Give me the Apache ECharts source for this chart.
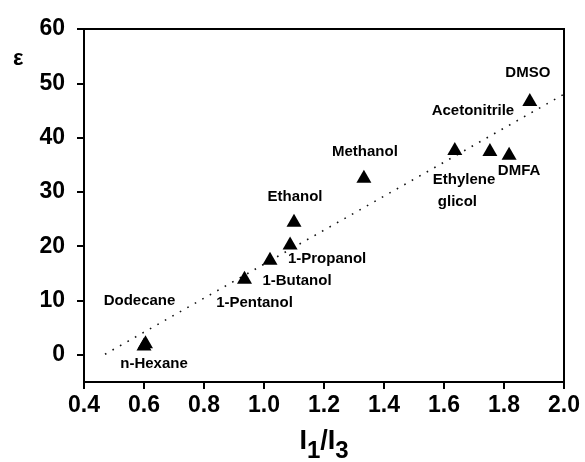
<!DOCTYPE html>
<html>
<head>
<meta charset="utf-8">
<script src="https://cdn.jsdelivr.net/npm/echarts@6/dist/echarts.min.js"></script>
<style>
html,body{margin:0;padding:0;background:#fff;}
#chart{width:585px;height:462px;}
</style>
</head>
<body>
<div id="chart"></div>
<script>
// ---- data ----
var solvents = ['n-Hexane','Dodecane','1-Pentanol','1-Butanol','1-Propanol','Ethanol','Methanol','Ethylene\nglicol','Acetonitrile','DMFA','DMSO'];
var ratioI1I3 = [0.60, 0.605, 0.935, 1.02, 1.087, 1.10, 1.333, 1.636, 1.753, 1.817, 1.886];
var epsilon   = [2.0, 2.4, 14.3, 17.8, 20.6, 24.8, 32.9, 38.0, 37.8, 37.1, 47.0];
var trendX = [0.47, 2.0];
var trendY = [0.1, 48.0];
var xTicks = [0.4, 0.6, 0.8, 1.0, 1.2, 1.4, 1.6, 1.8, 2.0];
var yTicks = [0, 10, 20, 30, 40, 50, 60];

// ---- label placement (style, px offsets from marker centre) ----
var labelOffsets = {
  'n-Hexane': [10, 20],
  'Dodecane': [-6, -41],
  '1-Pentanol': [10, 26],
  '1-Butanol': [27, 23],
  '1-Propanol': [37, 16],
  'Ethanol': [1, -23],
  'Methanol': [1, -24],
  'Ethylene\nglicol': [-22, 42],
  'Acetonitrile': [-17, -39],
  'DMFA': [10, 17],
  'DMSO': [-2, -27]
};

var font = 'Liberation Sans, Arial, sans-serif';
var points = solvents.map(function (name, i) {
  var item = {
    name: name,
    value: [ratioI1I3[i], epsilon[i]],
    label: {
      show: true,
      position: 'inside',
      offset: labelOffsets[name],
      formatter: name
    }
  };
  if (name === 'Ethylene\nglicol') {
    item.label.align = 'left';
    item.label.formatter = '{a|Ethylene}\n{b|glicol}';
  }
  return item;
});
var trend = trendX.map(function (x, i) { return [x, trendY[i]]; });

var chart = echarts.init(document.getElementById('chart'), null, {renderer: 'canvas'});
chart.setOption({
  animation: false,
  backgroundColor: '#fff',
  title: {
    text: 'ε',
    left: 8,
    top: 43,
    textStyle: {fontFamily: font, fontWeight: 'bold', fontSize: 22, color: '#000'}
  },
  grid: {
    left: 84, right: 21, top: 29, bottom: 80,
    outerBoundsMode: 'none',
    containLabel: false,
    show: true, borderColor: '#000', borderWidth: 2, backgroundColor: 'transparent'
  },
  xAxis: {
    type: 'value',
    min: 0.4, max: 2.0,
    axisLine: {show: true, onZero: false, lineStyle: {color: '#000', width: 2}},
    axisTick: {show: true, length: 7, lineStyle: {color: '#000', width: 2}, customValues: xTicks},
    axisLabel: {
      customValues: xTicks,
      formatter: function (v) { return v.toFixed(1); },
      fontFamily: font, fontWeight: 'bold', fontSize: 23, color: '#000', margin: 12
    },
    splitLine: {show: false},
    name: '{m|I}{s|1}{m|/I}{s|3}',
    nameLocation: 'middle',
    nameGap: 46,
    nameTextStyle: {
      rich: {
        m: {fontFamily: font, fontWeight: 'bold', fontSize: 27, color: '#000', lineHeight: 27, verticalAlign: 'top'},
        s: {fontFamily: font, fontWeight: 'bold', fontSize: 24, color: '#000', padding: [11, 0, 0, 0], verticalAlign: 'bottom'}
      }
    }
  },
  yAxis: {
    type: 'value',
    min: -5, max: 60,
    axisLine: {show: true, onZero: false, lineStyle: {color: '#000', width: 2}},
    axisTick: {show: true, length: 7, lineStyle: {color: '#000', width: 2}, customValues: yTicks},
    axisLabel: {
      customValues: yTicks,
      fontFamily: font, fontWeight: 'bold', fontSize: 23, color: '#000', margin: 19
    },
    splitLine: {show: false}
  },
  series: [
    {
      type: 'line',
      data: trend,
      showSymbol: false,
      symbol: 'none',
      silent: true,
      lineStyle: {color: '#111', width: 1.6, type: [1.6, 7]},
      z: 1
    },
    {
      type: 'scatter',
      data: points,
      symbol: 'triangle',
      symbolSize: [15, 13],
      itemStyle: {color: '#000', opacity: 1},
      label: {
        fontFamily: font, fontWeight: 'bold', fontSize: 15, color: '#000',
        rich: {
          a: {fontFamily: font, fontWeight: 'bold', fontSize: 15, color: '#000', lineHeight: 22},
          b: {fontFamily: font, fontWeight: 'bold', fontSize: 15, color: '#000', lineHeight: 22, padding: [0, 0, 0, 5]}
        }
      },
      z: 3
    }
  ]
});
</script>
</body>
</html>
